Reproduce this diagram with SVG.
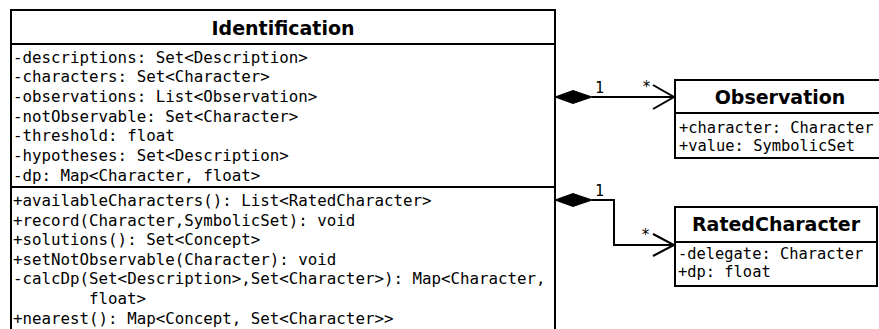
<svg xmlns="http://www.w3.org/2000/svg" width="879" height="329" viewBox="0 0 879 329">
  <style>
    .box { fill: #ffffff; stroke: #000000; stroke-width: 2; }
    .sep { stroke: #000000; stroke-width: 2; }
    .title { font-family: "DejaVu Sans", "Liberation Sans", sans-serif; font-weight: bold; font-size: 19px; text-anchor: middle; fill: #000; }
    .member { font-family: "DejaVu Sans Mono", "Liberation Mono", monospace; font-size: 15.8px; fill: #000; }
    .small { font-size: 15.4px; }
    .mult { font-family: "DejaVu Sans Mono", "Liberation Mono", monospace; font-size: 15px; fill: #000; }
    .link { fill: none; stroke: #000000; stroke-width: 2; }
    .diamond { fill: #000000; stroke: #000000; stroke-width: 1; }
  </style>

  <!-- Identification class -->
  <g id="identification">
    <rect class="box" x="11" y="10" width="544" height="335"/>
    <line class="sep" x1="11" y1="44" x2="555" y2="44"/>
    <line class="sep" x1="11" y1="187" x2="555" y2="187"/>
    <text class="title" x="283" y="35">Identification</text>
    <text class="member" x="13" y="62.5">-descriptions: Set&lt;Description&gt;</text>
    <text class="member" x="13" y="82.2">-characters: Set&lt;Character&gt;</text>
    <text class="member" x="13" y="101.9">-observations: List&lt;Observation&gt;</text>
    <text class="member" x="13" y="121.6">-notObservable: Set&lt;Character&gt;</text>
    <text class="member" x="13" y="141.3">-threshold: float</text>
    <text class="member" x="13" y="161">-hypotheses: Set&lt;Description&gt;</text>
    <text class="member" x="13" y="180.7">-dp: Map&lt;Character, float&gt;</text>
    <text class="member" x="13" y="206">+availableCharacters(): List&lt;RatedCharacter&gt;</text>
    <text class="member" x="13" y="225.6">+record(Character,SymbolicSet): void</text>
    <text class="member" x="13" y="245.2">+solutions(): Set&lt;Concept&gt;</text>
    <text class="member" x="13" y="264.8">+setNotObservable(Character): void</text>
    <text class="member" x="13" y="284.4">-calcDp(Set&lt;Description&gt;,Set&lt;Character&gt;): Map&lt;Character,</text>
    <text class="member" x="89" y="304">float&gt;</text>
    <text class="member" x="13" y="323.6">+nearest(): Map&lt;Concept, Set&lt;Character&gt;&gt;</text>
  </g>

  <!-- Observation class -->
  <g id="observation">
    <rect class="box" x="675" y="80" width="210" height="78"/>
    <line class="sep" x1="675" y1="113" x2="885" y2="113"/>
    <text class="title" x="780" y="103.5">Observation</text>
    <text class="member small" x="679" y="132.5">+character: Character</text>
    <text class="member small" x="679" y="150.5">+value: SymbolicSet</text>
  </g>

  <!-- RatedCharacter class -->
  <g id="rated-character">
    <rect class="box" x="675" y="207" width="202" height="79"/>
    <line class="sep" x1="675" y1="242" x2="877" y2="242"/>
    <text class="title" x="776" y="231">RatedCharacter</text>
    <text class="member small" x="678" y="258.5">-delegate: Character</text>
    <text class="member small" x="678" y="276.5">+dp: float</text>
  </g>

  <!-- Composition associations -->
  <g id="connectors">
    <polygon class="diamond" points="555,97 573,90.5 592,97 573,103.5"/>
    <line class="link" x1="592" y1="97" x2="674" y2="97"/>
    <polyline class="link" points="653,85 674,97 653,109"/>
    <text class="mult" x="595" y="93">1</text>
    <text class="mult" x="642" y="92">*</text>

    <polygon class="diamond" points="555,200 573,193.5 592,200 573,206.5"/>
    <polyline class="link" points="592,200 614,200 614,245 674,245"/>
    <polyline class="link" points="653,234 674,245 653,256"/>
    <text class="mult" x="595" y="196">1</text>
    <text class="mult" x="641" y="240">*</text>
  </g>
</svg>
